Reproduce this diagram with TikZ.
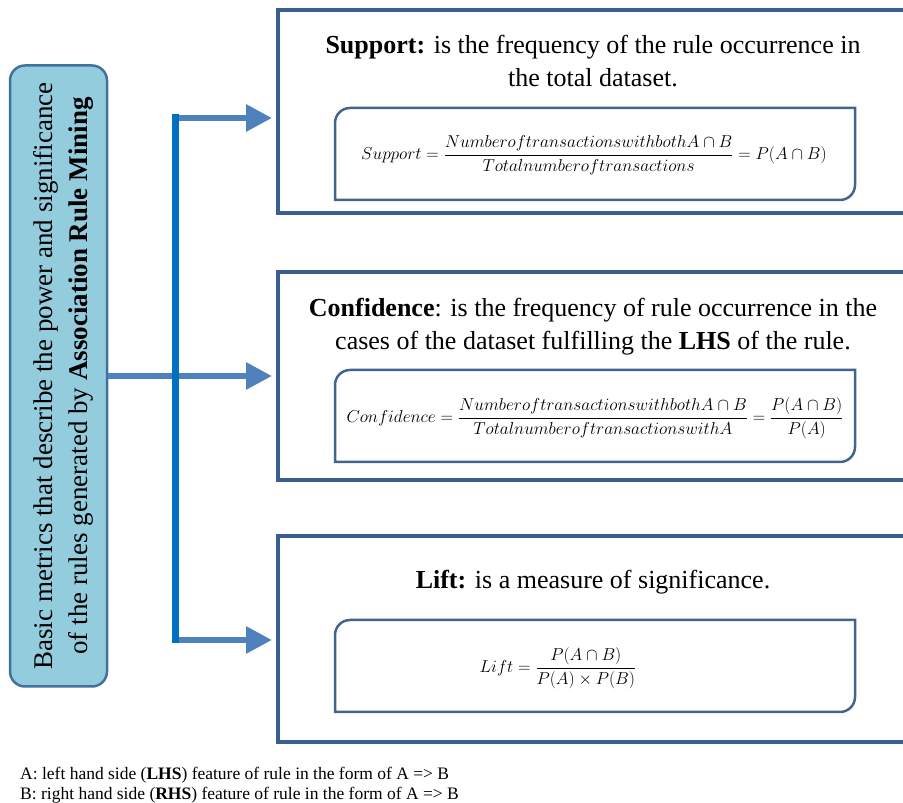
\documentclass[tikz,border=0pt]{standalone}
\usepackage[no-math]{fontspec}
\setmainfont{Liberation Serif}
\usetikzlibrary{arrows.meta}
\definecolor{leftfill}{HTML}{93CDDD}
\definecolor{leftdraw}{HTML}{41719C}
\definecolor{arrowblue}{HTML}{4F81BD}
\definecolor{barblue}{HTML}{0070C0}
\definecolor{boxdraw}{HTML}{3A5F8E}
\definecolor{formdraw}{HTML}{41658F}
\tikzset{
  leftbox/.style={draw=leftdraw, fill=leftfill, line width=2.5pt, rounded corners=15pt,
    rotate=90, minimum width=621pt, minimum height=97pt, inner sep=0pt},
  lefttext/.style={rotate=90, align=center, inner sep=0pt, font=\fontsize{27}{35}\selectfont},
  mainbox/.style={draw=boxdraw, line width=4pt, minimum width=722pt, inner sep=0pt},
  maintext/.style={align=center, font=\fontsize{26}{33}\selectfont, inner sep=0pt},
  formtext/.style={font=\fontsize{17.5}{20}\selectfont, inner sep=0pt},
  formbox/.style={draw=formdraw, line width=2.5pt},
  arr/.style={draw=arrowblue, line width=6pt, -{Triangle[length=26pt,width=26pt]}, shorten >=4pt},
  barline/.style={draw=barblue, line width=7pt, line cap=rect},
  foot/.style={align=left, font=\fontsize{17.5}{20}\selectfont, inner sep=0pt, anchor=west}
}
\begin{document}
\begin{tikzpicture}[x=1pt,y=1pt]
\useasboundingbox (0,0) rectangle (903,803);
% left box
\node[leftbox] (left) at (58.5,427) {};
\node[lefttext] (ltext) at (63,427) {Basic metrics that describe the power and significance\\ of the rules generated by \textbf{Association Rule Mining}};
% main boxes
\node[mainbox, minimum height=203pt] (b1) at (639,691.5) {};
\node[mainbox, minimum height=208pt] (b2) at (639,427) {};
\node[mainbox, minimum height=206pt] (b3) at (639,164) {};
% texts
\node[maintext] (t1) at (593,742) {\textbf{Support:} is the frequency of the rule occurrence in\\ the total dataset.};
\node[maintext] (t2) at (593,476) {\textbf{Confidence}: is the frequency of rule occurrence in the\\ cases of the dataset fulfilling the \textbf{LHS} of the rule.};
\node[maintext] (t3) at (593,221) {\textbf{Lift:} is a measure of significance.};
% formula boxes
\draw[formbox] (855,695) -- (350,695) arc[start angle=90,end angle=180,radius=15] -- (335,603) -- (840,603) arc[start angle=270,end angle=360,radius=15] -- cycle;
\draw[formbox] (855,433) -- (350,433) arc[start angle=90,end angle=180,radius=15] -- (335,341) -- (840,341) arc[start angle=270,end angle=360,radius=15] -- cycle;
\draw[formbox] (855,183) -- (350,183) arc[start angle=90,end angle=180,radius=15] -- (335,91) -- (840,91) arc[start angle=270,end angle=360,radius=15] -- cycle;
% formulas
\node[formtext] (f1) at (594,648) {$\displaystyle Support=\frac{NumberoftransactionswithbothA\cap B}{Totalnumberoftransactions}=P(A\cap B)$};
\node[formtext] (f2) at (595,385) {$\displaystyle Confidence=\frac{NumberoftransactionswithbothA\cap B}{TotalnumberoftransactionswithA}=\frac{P(A\cap B)}{P(A)}$};
\node[formtext] (f3) at (558,135) {$\displaystyle Lift=\frac{P(A\cap B)}{P(A)\times P(B)}$};
% connectors
\coordinate (bt) at (175,685);
\coordinate (bb) at (175,163);
\draw[arr] (left.south) -- (left.south -| b2.west);
\draw[arr] (bt) -- (bt -| b1.west);
\draw[arr] (bb) -- (bb -| b3.west);
\draw[barline] (bt) -- (bb);
% footnote
\node[foot] (fn) at (20,18) {A: left hand side (\textbf{LHS}) feature of rule in the form of A => B\\ B: right hand side (\textbf{RHS}) feature of rule in the form of A => B};
\end{tikzpicture}
\end{document}
